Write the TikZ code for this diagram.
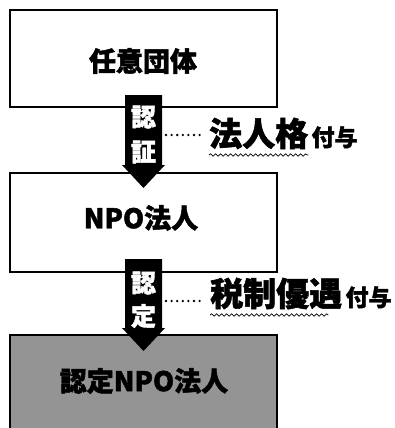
\documentclass[tikz,border=0pt]{standalone}
\usepackage{fontspec}
\setmainfont{Noto Sans CJK JP}[BoldFeatures={FakeBold=1.6}]
\usetikzlibrary{decorations.pathmorphing}
\begin{document}
\begin{tikzpicture}[x=1pt,y=-1pt,
  box/.style={draw=black,line width=2.4pt,minimum width=267pt,inner sep=0pt},
  big/.style={font=\bfseries\fontsize{27}{27}\selectfont,inner sep=0pt},
  wtxt/.style={text=white,font=\bfseries\fontsize{25}{25}\selectfont,inner sep=0pt},
  lbig/.style={anchor=base west,inner sep=0pt,font=\bfseries\fontsize{33}{33}\selectfont},
  lsmall/.style={anchor=base west,inner sep=0pt,font=\bfseries\fontsize{23}{23}\selectfont},
  dots/.style={line width=2.6pt,line cap=round,dash pattern=on 0pt off 5.6pt},
  wavy/.style={line width=0.7pt,decorate,decoration={snake,amplitude=1.2pt,segment length=5pt}}]
\useasboundingbox (0,0) rectangle (395,428);
\clip (0,0) rectangle (395,428);
% boxes
\node[box,minimum height=97pt] (b1) at (143.5,58.5) {};
\node[box,minimum height=99pt] (b2) at (143.5,222.5) {};
\node[box,minimum height=96pt,fill=black!42] (b3) at (143.5,383) {};
\node[big] (t1) at (143,61) {任意団体};
\node[big] (t2) at (141,218) {NPO法人};
\node[big] (t3) at (144,381) {認定NPO法人};
% arrows
\fill[black] (125,95) -- (162,95) -- (162,165) -- (165,165) -- (143.5,188) -- (122,165) -- (125,165) -- cycle;
\fill[black] (125,259) -- (162,259) -- (162,328) -- (165,328) -- (143.5,351) -- (122,328) -- (125,328) -- cycle;
\node[wtxt] (w1) at (143.5,117) {認};
\node[wtxt] (w2) at (143.5,152) {証};
\node[wtxt] (w3) at (143.5,283) {認};
\node[wtxt] (w4) at (143.5,316) {定};
% labels
\node[lbig] (l1) at (209,146) {法人格};
\node[lsmall] (l1b) at ([xshift=3pt]l1.base east) {付与};
\node[lbig] (l2) at (210,306) {税制優遇};
\node[lsmall] (l2b) at ([xshift=3pt]l2.base east) {付与};
\coordinate (d1s) at (166,135);
\coordinate (d1e) at (201,135);
\coordinate (d2s) at (166,301);
\coordinate (d2e) at (201,301);
\draw[dots] (d1s) -- (d1e);
\draw[dots] (d2s) -- (d2e);
\draw[wavy] ([yshift=-9pt]l1.base west) -- ([yshift=-9pt]l1.base east);
\draw[wavy] ([yshift=-9pt]l2.base west) -- ([yshift=-9pt,xshift=-14pt]l2.base east);
\end{tikzpicture}
\end{document}
